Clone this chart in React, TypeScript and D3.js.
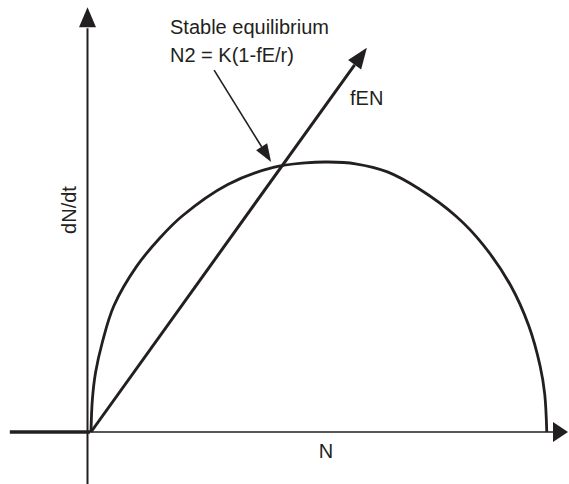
import React from "react";
import * as d3 from "d3";

// Curve dN/dt = rN(1-N/K) (N, dN/dt)
const curveN = [0, 0.3, 1, 2.5, 5, 10, 15, 20, 30, 40, 47, 52, 58, 65, 72, 80, 86, 92, 96, 98.5, 99.5, 99.95];
const curveY = [0, 3.6, 6.6, 10, 14, 18.4, 21.5, 24, 27.5, 29.4, 29.9, 30, 29.8, 28.9, 27.0, 24.0, 20.8, 16.3, 11.8, 7.3, 4.2, 0];

// fEN line: from origin to arrow tip (N, dN/dt)
const fenN = [0, 60.5];
const fenY = [0, 42.7];

// Annotation arrow (start, tip) in data units
const annN = [27, 39.5];
const annY = [40.2, 30.0];

// Axis extents in data units
const xAxisExtent = [-17.8, 104.6];
const yAxisTop = 47.2;

const labels = {
  title1: "Stable equilibrium",
  title2: "N2 = K(1-fE/r)",
  fen: "fEN",
  x: "N",
  y: "dN/dt",
};

const W = 569;
const H = 484;
const INK = "#231f20";
const FONT = "'Liberation Sans', Arial, Helvetica, sans-serif";

function arrowHead(tipX: number, tipY: number, fromX: number, fromY: number, len: number, half: number) {
  const dx = tipX - fromX;
  const dy = tipY - fromY;
  const d = Math.sqrt(dx * dx + dy * dy);
  const ux = dx / d;
  const uy = dy / d;
  const bx = tipX - ux * len;
  const by = tipY - uy * len;
  const px = -uy;
  const py = ux;
  return {
    path: `M${tipX},${tipY}L${bx + px * half},${by + py * half}L${bx - px * half},${by - py * half}Z`,
    baseX: bx,
    baseY: by,
  };
}

export default function App() {
  const x = d3.scaleLinear().domain([0, 100]).range([91, 547]);
  const y = d3.scaleLinear().domain([0, 30]).range([432, 162]);

  const pts: [number, number][] = curveN.map((n, i) => [x(n), y(curveY[i])]);
  const curvePath = d3.line().curve(d3.curveCatmullRom.alpha(0.5))(pts) || "";

  const axisX = x(0) - 3.5;
  const x0 = y(0);

  const yTip = y(yAxisTop);
  const yHead = arrowHead(axisX, yTip, axisX, H, 20, 8.5);

  const xTip = x(xAxisExtent[1]);
  const xHead = arrowHead(xTip, x0, x(0), x0, 15, 10);

  const fx0 = x(fenN[0]);
  const fy0 = y(fenY[0]);
  const fx1 = x(fenN[1]);
  const fy1 = y(fenY[1]);
  const fHead = arrowHead(fx1, fy1, fx0, fy0, 21, 8);

  const ax0 = x(annN[0]);
  const ay0 = y(annY[0]);
  const ax1 = x(annN[1]);
  const ay1 = y(annY[1]);
  const aHead = arrowHead(ax1, ay1, ax0, ay0, 18, 6.5);

  return (
    <svg
      width={W}
      height={H}
      style={{ position: "absolute", left: 0, top: 0, background: "#fff" }}
      fontFamily={FONT}
    >
      <line x1={x(xAxisExtent[0])} x2={x(0) - 1} y1={x0} y2={x0} stroke={INK} strokeWidth={3.5} />
      <line x1={x(0) - 2} x2={xHead.baseX + 1} y1={x0} y2={x0} stroke={INK} strokeWidth={1.4} />
      <path d={xHead.path} fill={INK} />
      <line x1={axisX} x2={axisX} y1={H} y2={yHead.baseY + 1} stroke={INK} strokeWidth={2} />
      <path d={yHead.path} fill={INK} />

      <path d={curvePath} fill="none" stroke={INK} strokeWidth={2.8} />

      <line x1={fx0} y1={fy0} x2={fHead.baseX} y2={fHead.baseY} stroke={INK} strokeWidth={3} />
      <path d={fHead.path} fill={INK} />

      <line x1={ax0} y1={ay0} x2={aHead.baseX} y2={aHead.baseY} stroke={INK} strokeWidth={1.6} />
      <path d={aHead.path} fill={INK} />

      <text x={170} y={34} fontSize={20} fill={INK}>
        {labels.title1}
      </text>
      <text x={170} y={62} fontSize={20} fill={INK}>
        {labels.title2}
      </text>
      <text x={350} y={105} fontSize={20} fill={INK}>
        {labels.fen}
      </text>
      <text x={326} y={458} fontSize={20} fill={INK} textAnchor="middle">
        {labels.x}
      </text>
      <text transform={`translate(76,210) rotate(-90)`} fontSize={20} fill={INK} textAnchor="middle">
        {labels.y}
      </text>
    </svg>
  );
}
